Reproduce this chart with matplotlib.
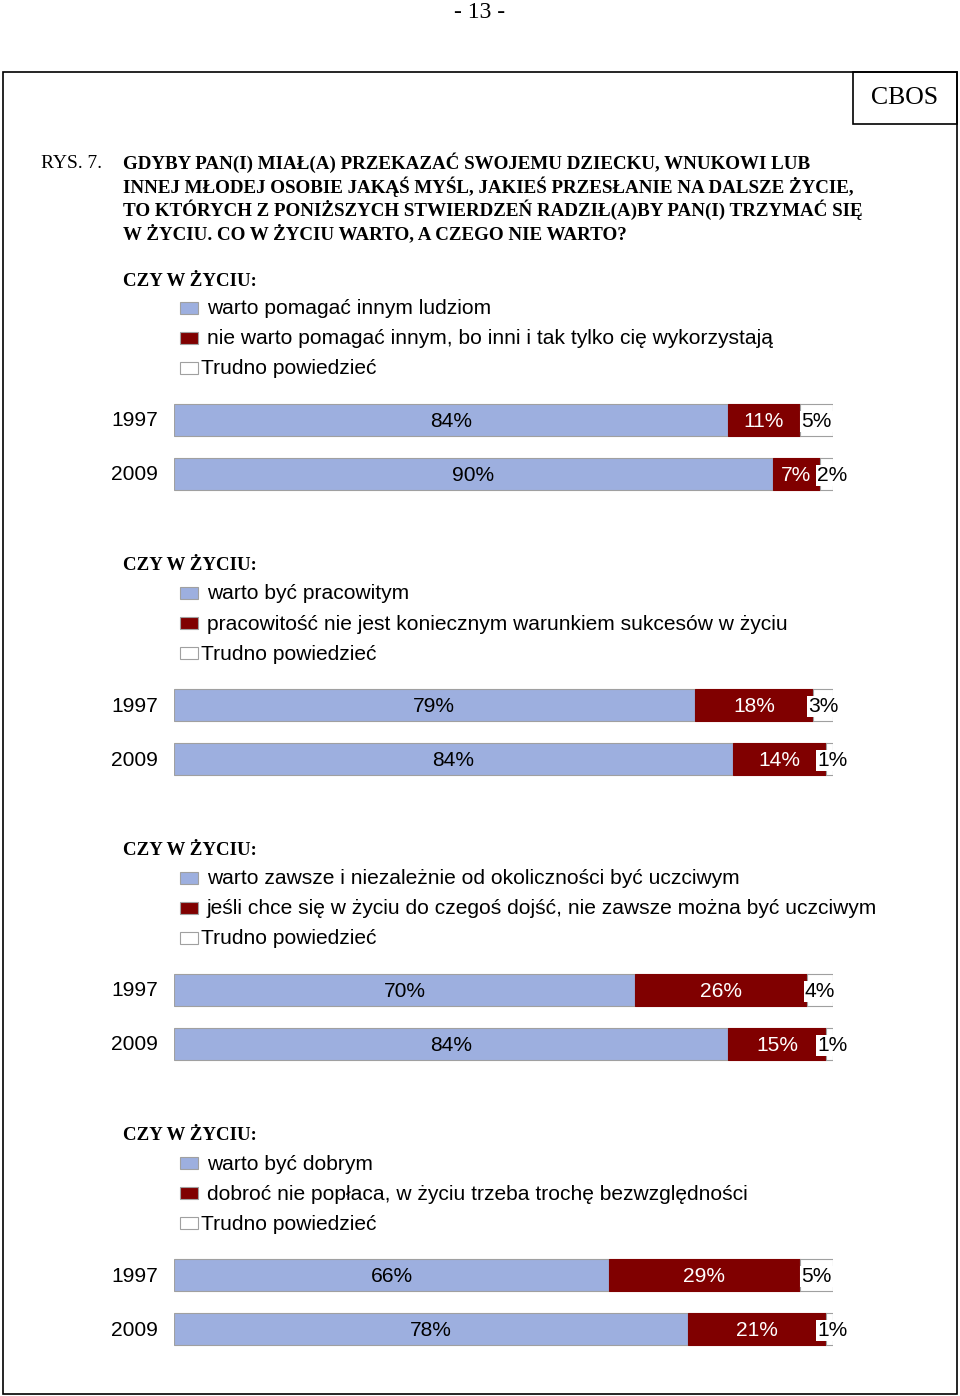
import matplotlib
matplotlib.use('Agg')
import matplotlib.pyplot as plt
import matplotlib.patches as mpatches
import numpy as np

# chart data
years = ["1997", "2009"]
heading = "CZY W ŻYCIU:"
legend_yes = ["warto pomagać innym ludziom",
              "warto być pracowitym",
              "warto zawsze i niezależnie od okoliczności być uczciwym",
              "warto być dobrym"]
legend_no = ["nie warto pomagać innym, bo inni i tak tylko cię wykorzystają",
             "pracowitość nie jest koniecznym warunkiem sukcesów w życiu",
             "jeśli chce się w życiu do czegoś dojść, nie zawsze można być uczciwym",
             "dobroć nie popłaca, w życiu trzeba trochę bezwzględności"]
legend_dk = "Trudno powiedzieć"
yes_vals = [[84, 90], [79, 84], [70, 84], [66, 78]]
no_vals = [[11, 7], [18, 14], [26, 15], [29, 21]]
dk_vals = [[5, 2], [3, 1], [4, 1], [5, 1]]

title_lines = ["GDYBY PAN(I) MIAŁ(A) PRZEKAZAĆ SWOJEMU DZIECKU, WNUKOWI LUB",
               "INNEJ MŁODEJ OSOBIE JAKĄŚ MYŚL, JAKIEŚ PRZESŁANIE NA DALSZE ŻYCIE,",
               "TO KTÓRYCH Z PONIŻSZYCH STWIERDZEŃ RADZIŁ(A)BY PAN(I) TRZYMAĆ SIĘ",
               "W ŻYCIU. CO W ŻYCIU WARTO, A CZEGO NIE WARTO?"]

BLUE = '#9dafdf'
RED = '#800000'
EDGE = '#a0a0a0'
W, H = 960, 1396
SANS = 'Liberation Sans'
SERIF = 'Liberation Serif'
FS = 15.1

fig = plt.figure(figsize=(W / 100, H / 100), dpi=100)


def fx(x):
    return x / W


def fy(y):
    return 1 - y / H


def ftext(x, y, s, **kw):
    fig.text(fx(x), fy(y), s, **kw)


# page decorations
ftext(480, 12, "- 13 -", family=SERIF, fontsize=17, ha='center', va='center')
fig.patches.append(mpatches.Rectangle((fx(3), fy(1394)), fx(954), (1394 - 72) / H,
                                      transform=fig.transFigure, fill=False,
                                      edgecolor='black', lw=1.2))
fig.patches.append(mpatches.Rectangle((fx(853), fy(124)), fx(104), 52 / H,
                                      transform=fig.transFigure, fill=False,
                                      edgecolor='black', lw=1.2))
ftext(905, 98, "CBOS", family=SERIF, fontsize=18.5, ha='center', va='center')

ftext(41, 163, "RYS. 7.", family=SERIF, fontsize=14, va='center')
for i, line in enumerate(title_lines):
    ftext(123, 163 + i * 23.6, line, family=SERIF, fontsize=13.65,
          fontweight='bold', va='center')

step = 285
for k in range(4):
    off = k * step
    ftext(123, 281 + off, heading, family=SERIF, fontsize=13.6,
          fontweight='bold', va='center')
    # legend
    for j, (lab, col) in enumerate([(legend_yes[k], BLUE), (legend_no[k], RED),
                                    (legend_dk, 'white')]):
        yy = 308 + off + j * 30
        fig.patches.append(mpatches.Rectangle((fx(180), fy(yy + 6)), 18 / W, 12 / H,
                                              transform=fig.transFigure,
                                              facecolor=col, edgecolor=EDGE, lw=0.8))
        tx = 207 if j < 2 else 201
        ftext(tx, yy + 1, lab, family=SANS, fontsize=FS, va='center')

    # bars
    top = 393 + off
    ax = fig.add_axes([fx(174), fy(top + 108), 659 / W, 108 / H])
    ax.set_xlim(0, 100)
    ax.set_ylim(1.5, -0.5)
    ax.axis('off')
    yes = np.array(yes_vals[k], float)
    no = np.array(no_vals[k], float)
    dk = np.array(dk_vals[k], float)
    tot = yes + no + dk
    y_s, n_s, d_s = yes / tot * 100, no / tot * 100, dk / tot * 100
    pos = np.arange(len(years))
    bh = 32 / 54
    ax.barh(pos, y_s, height=bh, color=BLUE, edgecolor=EDGE, lw=0.8)
    ax.barh(pos, n_s, left=y_s, height=bh, color=RED, edgecolor=RED, lw=0.8)
    ax.barh(pos, d_s, left=y_s + n_s, height=bh, color='white', edgecolor=EDGE, lw=0.8)
    for i in range(len(years)):
        ax.text(y_s[i] / 2, pos[i] + 0.02, f"{yes_vals[k][i]}%", ha='center', va='center',
                family=SANS, fontsize=FS, color='black')
        ax.text(y_s[i] + n_s[i] / 2, pos[i] + 0.02, f"{no_vals[k][i]}%", ha='center',
                va='center', family=SANS, fontsize=FS, color='white')
        dx = y_s[i] + n_s[i] + d_s[i] / 2
        if d_s[i] < 2.5:
            dx = 99.9
        ax.text(dx, pos[i] + 0.02, f"{dk_vals[k][i]}%", ha='center', va='center',
                family=SANS, fontsize=FS, color='black', clip_on=False,
                bbox=dict(boxstyle='square,pad=0.05', fc='white', ec='none'))
        ftext(158, 421 + off + i * 54, years[i], family=SANS, fontsize=FS,
              ha='right', va='center')

fig.savefig('out.png', dpi=100)
